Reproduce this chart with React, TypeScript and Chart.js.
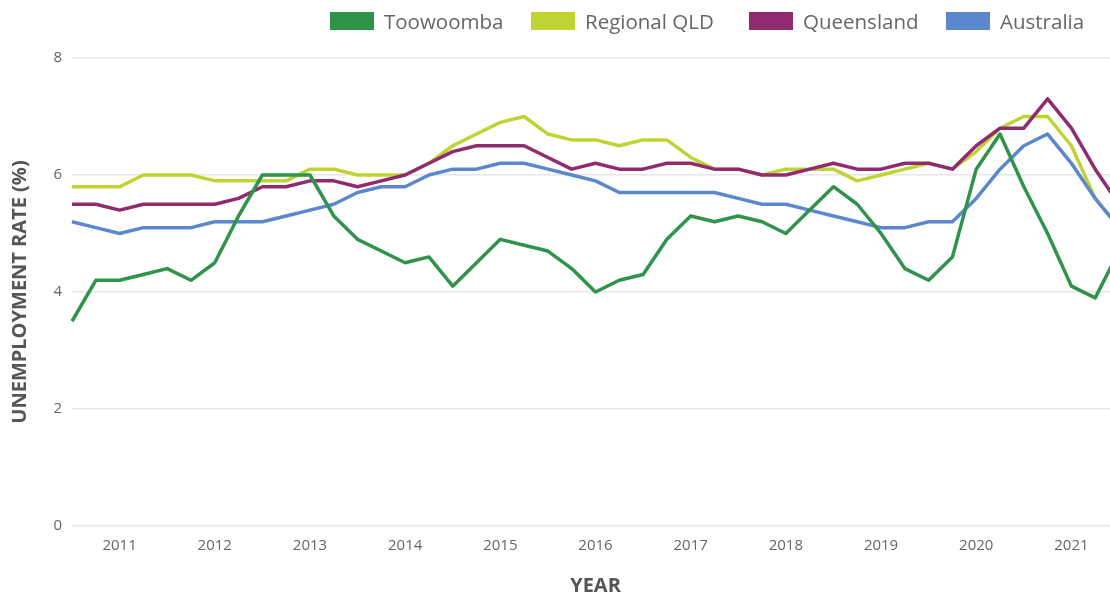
import React, { useEffect, useRef } from "react";
import { Chart, registerables } from "chart.js";

Chart.register(...registerables);

// ---- data ----
const startYear = 2010;
const startQuarter = 3; // first point is Q3 2010
const quarters: string[] = [];
for (let i = 0; i < 45; i++) {
  const q = ((startQuarter - 1 + i) % 4) + 1;
  const y = startYear + Math.floor((startQuarter - 1 + i) / 4);
  quarters.push(`Q${q} ${y}`);
}

const seriesNames = ["Toowoomba", "Regional QLD", "Queensland", "Australia"];

const toowoomba = [
  3.5, 4.2, 4.2, 4.3, 4.4, 4.2, 4.5, 5.3, 6.0, 6.0, 6.0, 5.3, 4.9, 4.7, 4.5,
  4.6, 4.1, 4.5, 4.9, 4.8, 4.7, 4.4, 4.0, 4.2, 4.3, 4.9, 5.3, 5.2, 5.3, 5.2,
  5.0, 5.4, 5.8, 5.5, 5.0, 4.4, 4.2, 4.6, 6.1, 6.7, 5.8, 5.0, 4.1, 3.9, 4.7,
];
const regionalQld = [
  5.8, 5.8, 5.8, 6.0, 6.0, 6.0, 5.9, 5.9, 5.9, 5.9, 6.1, 6.1, 6.0, 6.0, 6.0,
  6.2, 6.5, 6.7, 6.9, 7.0, 6.7, 6.6, 6.6, 6.5, 6.6, 6.6, 6.3, 6.1, 6.1, 6.0,
  6.1, 6.1, 6.1, 5.9, 6.0, 6.1, 6.2, 6.1, 6.4, 6.8, 7.0, 7.0, 6.5, 5.6, 5.1,
];
const queensland = [
  5.5, 5.5, 5.4, 5.5, 5.5, 5.5, 5.5, 5.6, 5.8, 5.8, 5.9, 5.9, 5.8, 5.9, 6.0,
  6.2, 6.4, 6.5, 6.5, 6.5, 6.3, 6.1, 6.2, 6.1, 6.1, 6.2, 6.2, 6.1, 6.1, 6.0,
  6.0, 6.1, 6.2, 6.1, 6.1, 6.2, 6.2, 6.1, 6.5, 6.8, 6.8, 7.3, 6.8, 6.1, 5.5,
];
const australia = [
  5.2, 5.1, 5.0, 5.1, 5.1, 5.1, 5.2, 5.2, 5.2, 5.3, 5.4, 5.5, 5.7, 5.8, 5.8,
  6.0, 6.1, 6.1, 6.2, 6.2, 6.1, 6.0, 5.9, 5.7, 5.7, 5.7, 5.7, 5.7, 5.6, 5.5,
  5.5, 5.4, 5.3, 5.2, 5.1, 5.1, 5.2, 5.2, 5.6, 6.1, 6.5, 6.7, 6.2, 5.6, 5.1,
];

const colors = ["#2f9349", "#bfd432", "#8f2b6e", "#5b88cc"];
const drawOrder = [0, 3, 2, 1]; // lower is drawn on top
const legendLefts = [330, 531, 749, 946];

const yTicks = [0, 2, 4, 6, 8];
const yTitle = "UNEMPLOYMENT RATE (%)";
const xTitle = "YEAR";

const FONT = "'Open Sans', sans-serif";
const CANVAS_W = 1122;

export default function App() {
  const ref = useRef<HTMLCanvasElement | null>(null);

  useEffect(() => {
    document.body.style.margin = "0";
    document.body.style.background = "#ffffff";
    const ctx = ref.current!;
    const values = [toowoomba, regionalQld, queensland, australia];
    const chart = new Chart(ctx, {
      type: "line",
      data: {
        labels: quarters,
        datasets: seriesNames.map((name, i) => ({
          label: name,
          data: values[i],
          borderColor: colors[i],
          backgroundColor: colors[i],
          borderWidth: 3.5,
          pointRadius: 0,
          pointHoverRadius: 0,
          tension: 0,
          fill: false,
          order: drawOrder[i],
          borderJoinStyle: "round" as const,
        })),
      },
      options: {
        animation: false,
        responsive: false,
        layout: { padding: { top: 58, right: 0.5, bottom: 0, left: 0 } },
        plugins: {
          legend: { display: false },
          tooltip: { enabled: false },
        },
        scales: {
          x: {
            grid: { display: false },
            border: { display: false },
            ticks: {
              autoSkip: false,
              maxRotation: 0,
              minRotation: 0,
              padding: 3,
              color: "#666666",
              font: { family: FONT, size: 15 },
              callback: (_v: any, index: number) => {
                const q = quarters[index];
                return q.startsWith("Q1") ? q.slice(3) : "";
              },
            },
            title: {
              display: true,
              text: xTitle,
              color: "#555555",
              font: { family: FONT, size: 20, weight: "bold", lineHeight: 0.9 },
              padding: { top: 0, bottom: 0 },
            },
            afterFit: (scale: any) => {
              scale.height = 69;
            },
          },
          y: {
            min: 0,
            max: 8,
            afterBuildTicks: (scale: any) => {
              scale.ticks = yTicks.map((v) => ({ value: v }));
            },
            grid: { color: "#e6e6e6", lineWidth: 1.5, drawTicks: false },
            border: { display: false },
            ticks: {
              padding: 10,
              color: "#666666",
              font: { family: FONT, size: 15 },
            },
            title: {
              display: true,
              text: yTitle,
              color: "#555555",
              font: { family: FONT, size: 20, weight: "bold", lineHeight: 1 },
              padding: { top: 10, bottom: 0 },
            },
            afterFit: (scale: any) => {
              scale.width = 72;
            },
          },
        },
      },
    });
    return () => chart.destroy();
  }, []);

  return (
    <div
      style={{
        position: "fixed",
        left: 0,
        top: 0,
        width: CANVAS_W,
        height: 595,
        background: "#fff",
        overflow: "hidden",
      }}
    >
      <canvas ref={ref} width={CANVAS_W} height={595} style={{ display: "block" }} />
      {seriesNames.map((name, i) => (
        <div
          key={name}
          style={{
            position: "absolute",
            left: legendLefts[i],
            top: 12,
            height: 18,
            display: "flex",
            alignItems: "center",
            fontFamily: FONT,
            fontSize: 20.5,
            color: "#666666",
            whiteSpace: "nowrap",
          }}
        >
          <span
            style={{
              display: "inline-block",
              width: 44,
              height: 18,
              background: colors[i],
              marginRight: 10,
            }}
          />
          <span style={{ lineHeight: "18px" }}>{name}</span>
        </div>
      ))}
    </div>
  );
}
